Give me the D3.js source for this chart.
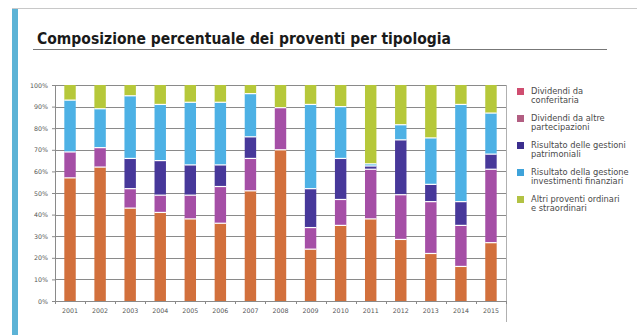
<!DOCTYPE html>
<html><head><meta charset="utf-8">
<script src="https://cdn.jsdelivr.net/npm/d3@7"></script>
<style>body{margin:0;background:#fff}svg{display:block}</style>
</head><body>
<svg id="c" width="637" height="335"></svg>
<script>
const years = ["2001","2002","2003","2004","2005","2006","2007","2008","2009","2010","2011","2012","2013","2014","2015"];
const seriesNames = [
  ["Dividendi da","conferitaria"],
  ["Dividendi da altre","partecipazioni"],
  ["Risultato delle gestioni","patrimoniali"],
  ["Risultato della gestione","investimenti finanziari"],
  ["Altri proventi ordinari","e straordinari"]
];
const dividendiConferitaria = [57,62,43,41,38,36,51,70,24,35,38,28.5,22,16,27];
const dividendiAltre        = [12,9,9,8,11,17,15,19.5,10,12,23,20.7,24,19,34];
const gestioniPatrimoniali  = [0,0,14,16,14,10,10,0,18,19,1.5,25.4,8,11,7];
const investimentiFinanz    = [24,18,29,26,29,29,20,0,39,24,1,7,21.5,45,19];
const altriProventi         = [7,11,5,9,8,8,4,10.5,9,10,36.5,18.4,24.5,9,13];
const yTicks = [0,10,20,30,40,50,60,70,80,90,100];

const barColors = ["#d2703c","#a54fa6","#47389a","#4db1e5","#b6c83a"];
const legendColors = ["#cf4d70","#b25e82","#3b2e8e","#3ea3da","#b2c244"];

const svg = d3.select("#c");
const W = 637, H = 335;
// frame
svg.append("rect").attr("x",12).attr("y",9).attr("width",6).attr("height",H-9).attr("fill","#5cb3d6");
svg.append("line").attr("x1",12).attr("x2",W).attr("y1",8.5).attr("y2",8.5).attr("stroke","#c8c8c8");
// title
svg.append("text").attr("x",37).attr("y",44)
  .attr("font-family","DejaVu Sans, Verdana, sans-serif").attr("font-weight","bold").attr("font-size",15)
  .attr("textLength",414).attr("lengthAdjust","spacingAndGlyphs")
  .attr("fill","#1a1a1a").text("Composizione percentuale dei proventi per tipologia");
svg.append("line").attr("x1",33).attr("x2",607).attr("y1",49.5).attr("y2",49.5).attr("stroke","#777").attr("stroke-width",1);

const m = {l:55, r:506, t:85, b:301};
const x = d3.scaleBand().domain(years).range([m.l,m.r]).paddingInner(0.62).paddingOuter(0.31);
const y = d3.scaleLinear().domain([0,100]).range([m.b,m.t]);

// gridlines
svg.append("g").selectAll("line").data(yTicks).join("line")
  .attr("x1",m.l).attr("x2",m.r).attr("y1",d=>Math.round(y(d))+0.5).attr("y2",d=>Math.round(y(d))+0.5)
  .attr("stroke","#8a8a8a").attr("stroke-width",1);
// right frame line
svg.append("line").attr("x1",m.r+0.5).attr("x2",m.r+0.5).attr("y1",m.t).attr("y2",322).attr("stroke","#b0b0b0");

// y axis
const yAxis = svg.append("g").attr("transform",`translate(${m.l},0)`)
  .call(d3.axisLeft(y).tickValues(yTicks).tickFormat(d=>d+"%").tickSize(3));
yAxis.select(".domain").attr("stroke","#8a8a8a");
yAxis.selectAll(".tick line").attr("stroke","#8a8a8a");
yAxis.selectAll("text").attr("font-family","DejaVu Sans, sans-serif").attr("font-size",6.3).attr("fill","#555").attr("dx",-1);

// x axis
const step = x.step();
const xAxis = svg.append("g").attr("transform",`translate(0,${m.b})`)
  .call(d3.axisBottom(x).tickSize(0).tickPadding(8));
xAxis.select(".domain").remove();
xAxis.selectAll("text").attr("font-family","DejaVu Sans, sans-serif").attr("font-size",6.3).attr("fill","#555");
svg.append("g").selectAll("line").data(d3.range(years.length+1)).join("line")
  .attr("x1",i=>Math.round(m.l+i*step)+0.5).attr("x2",i=>Math.round(m.l+i*step)+0.5)
  .attr("y1",m.b).attr("y2",m.b+3).attr("stroke","#8a8a8a");

// stacked bars
const table = years.map((yr,i)=>({year:yr, s0:dividendiConferitaria[i], s1:dividendiAltre[i], s2:gestioniPatrimoniali[i], s3:investimentiFinanz[i], s4:altriProventi[i]}));
const keys = ["s0","s1","s2","s3","s4"];
const stacked = d3.stack().keys(keys)(table);
const gb = svg.append("g");
stacked.forEach((layer,k)=>{
  gb.append("g").selectAll("rect").data(layer.filter(d=>d[1]-d[0]>0)).join("rect")
    .attr("x",d=>x(d.data.year)).attr("width",x.bandwidth())
    .attr("y",d=>y(d[1])).attr("height",d=>y(d[0])-y(d[1]))
    .attr("fill",barColors[k]);
});
// white separators
stacked.slice(0,4).forEach(layer=>{
  gb.append("g").selectAll("line").data(layer.filter(d=>d[1]-d[0]>0)).join("line")
    .attr("x1",d=>x(d.data.year)).attr("x2",d=>x(d.data.year)+x.bandwidth())
    .attr("y1",d=>y(d[1])).attr("y2",d=>y(d[1]))
    .attr("stroke","#fff").attr("stroke-width",1.2);
});

// legend
const lg = svg.append("g");
seriesNames.forEach((nm,i)=>{
  const yy = 88 + i*27;
  lg.append("rect").attr("x",517).attr("y",yy).attr("width",7).attr("height",7).attr("fill",legendColors[i]);
  nm.forEach((line,j)=>{
    lg.append("text").attr("x",531).attr("y",yy+6+j*9)
      .attr("font-family","DejaVu Sans, sans-serif").attr("font-size",8.3).attr("fill","#4a4a4a").text(line);
  });
});
</script>
</body></html>
